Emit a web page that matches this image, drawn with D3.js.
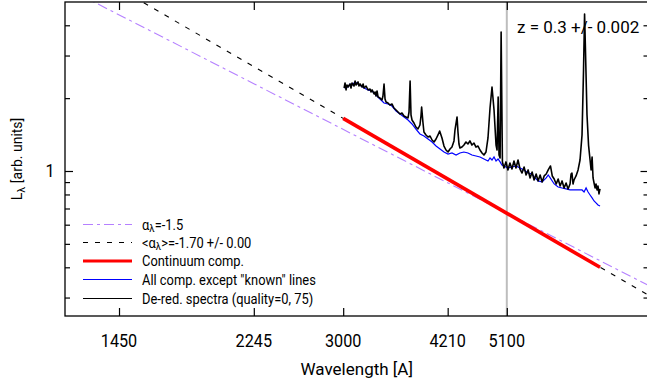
<!DOCTYPE html>
<html>
<head>
<meta charset="utf-8">
<script src="https://cdn.jsdelivr.net/npm/d3@7"></script>
<style>
body { margin: 0; background: #fff; }
text { font-family: Roboto, "Liberation Sans", sans-serif; fill: #000; }
</style>
</head>
<body>
<script>
// values: rest-frame wavelength [A] and L_lambda [arb. units]

// de-reddened spectrum (black)
var specWave = [3009,3018,3028,3037,3047,3067,3077,3087,3107,3118,
  3128,3148,3158,3169,3189,3200,3210,3231,3252,3273,
  3284,3295,3316,3327,3337,3348,3359,3380,3402,3413,
  3425,3436,3447,3469,3491,3514,3537,3561,3584,3607,
  3630,3654,3677,3702,3714,3727,3738,3750,3774,3798,
  3823,3848,3861,3869,3885,3898,3924,3950,3976,4002,
  4028,4054,4080,4102,4133,4160,4187,4215,4242,4269,
  4297,4311,4340,4353,4367,4381,4410,4438,4467,4496,
  4525,4555,4585,4615,4645,4675,4706,4736,4767,4798,
  4830,4861,4893,4925,4941,4959,4973,4990,5007,5028,
  5053,5086,5119,5152,5186,5220,5254,5289,5323,5358,
  5394,5429,5465,5500,5536,5572,5609,5645,5682,5719,
  5757,5795,5833,5876,5910,5947,5986,6024,6063,6101,
  6141,6181,6221,6261,6282,6300,6322,6342,6384,6426,
  6467,6509,6541,6563,6582,6615,6648,6681,6703,6725,
  6746,6768,6790,6811,6834,6855,6877,6900];
var specL = [2.203,2.311,2.162,2.267,2.224,2.288,2.203,2.311,2.245,2.355,
  2.267,2.333,2.245,2.288,2.224,2.288,2.203,2.245,2.162,2.182,
  2.121,2.162,2.081,2.121,2.042,2.141,2.022,2.003,1.965,2.042,
  2.288,1.984,1.928,1.910,1.874,1.892,1.821,1.787,1.753,1.720,
  1.736,1.688,1.672,1.656,1.753,2.355,1.704,1.625,1.579,1.520,
  1.491,1.549,1.688,1.839,1.594,1.449,1.409,1.382,1.395,1.343,
  1.318,1.356,1.409,1.463,1.369,1.268,1.221,1.198,1.233,1.256,
  1.331,1.477,1.672,1.449,1.293,1.245,1.256,1.280,1.318,1.293,
  1.331,1.280,1.305,1.256,1.268,1.221,1.187,1.164,1.198,1.369,
  1.821,2.224,1.787,1.280,1.221,2.022,1.164,1.132,3.753,1.090,
  1.029,1.090,1.010,1.079,1.019,1.100,1.029,1.110,1.019,0.981,
  1.039,0.963,1.010,0.936,0.991,0.918,0.972,0.910,0.963,0.901,
  0.954,0.972,1.010,1.049,0.954,0.927,0.884,0.927,0.867,0.910,
  0.851,0.892,0.843,0.884,0.972,0.981,0.884,0.918,0.954,1.010,
  1.110,1.409,2.615,4.456,3.162,1.704,1.280,1.110,1.010,1.143,
  0.936,0.892,0.851,0.884,0.835,0.867,0.804,0.843];

// all components except "known" lines (blue)
var blueWave = [3009,3028,3047,3067,3087,3118,3148,3179,3210,3252,
  3295,3337,3380,3425,3469,3514,3561,3607,3654,3702,
  3750,3798,3848,3898,3950,4002,4054,4107,4160,4215,
  4269,4326,4381,4438,4496,4555,4615,4675,4736,4798,
  4830,4861,4893,4925,4957,4990,5020,5053,5119,5186,
  5254,5323,5394,5465,5536,5572,5645,5719,5795,5833,
  5871,5947,6024,6101,6181,6261,6342,6426,6509,6552,
  6595,6638,6681,6725,6768,6811,6855,6900];
var blueL = [2.203,2.245,2.224,2.288,2.267,2.333,2.288,2.245,2.203,2.162,
  2.141,2.061,1.984,1.910,1.892,1.856,1.770,1.720,1.672,1.625,
  1.564,1.491,1.422,1.395,1.356,1.318,1.268,1.233,1.198,1.175,
  1.187,1.164,1.187,1.198,1.187,1.164,1.153,1.143,1.121,1.100,
  1.132,1.110,1.143,1.100,1.121,1.090,1.059,1.049,1.029,1.039,
  1.049,1.029,1.010,0.981,0.972,0.945,0.910,0.901,0.936,0.963,
  0.936,0.884,0.859,0.851,0.843,0.835,0.835,0.835,0.835,0.819,
  0.851,0.819,0.796,0.774,0.752,0.738,0.724,0.717];

// continuum component (red) and power laws
var contWave = [3000, 6900];
var contL = [1.65, 0.40];
var fitWave = [1200, 9000];   // <alpha> = -1.70 through the continuum
var fitL = [7.83, 0.255];
var fixWave = [1200, 9000];   // alpha = -1.5
var fixL = [5.87, 0.286];

var xTicks = [1450, 2245, 3000, 4210, 5100];
var yMajor = [1];
var yMinor = [0.3, 0.4, 0.5, 0.6, 0.7, 0.8, 0.9, 2, 3, 4];
var markWave = 5100;
var zText = "z = 0.3 +/- 0.002";

var legendParts = [
  [["\u03b1", ""], ["\u03bb", "sub"], ["=-1.5", ""]],
  [["<\u03b1", ""], ["\u03bb", "sub"], [">=-1.70 +/- 0.00", ""]],
  [["Continuum comp.", ""]],
  [["All comp. except \"known\" lines", ""]],
  [["De-red. spectra (quality=0, 75)", ""]]
];

var width = 647, height = 390;
// plot box (window.top is taken, so prefix these)
var pLeft = 65, pRight = 648.5, pTop = 2, pBottom = 316;
var purple = "#b580ff";

var svg = d3.select("body").append("svg")
  .attr("width", width)
  .attr("height", height);

// the original font is a bit narrower than Roboto: squeeze the text sideways
function squeeze(sel, k) {
  sel.each(function() {
    var len = this.getComputedTextLength();
    d3.select(this).attr("textLength", len * k).attr("lengthAdjust", "spacingAndGlyphs");
  });
}

// log-log scales
var x = d3.scaleLog().domain([1217, 8075]).range([pLeft, pRight]);
var y = d3.scaleLog().domain([0.2517, 4.992]).range([pBottom, pTop]);

svg.append("clipPath").attr("id", "clip")
  .append("rect")
  .attr("x", pLeft).attr("y", pTop)
  .attr("width", pRight - pLeft).attr("height", pBottom - pTop);

var plot = svg.append("g").attr("clip-path", "url(#clip)");

function pts(w, l) { return w.map(function(d, i) { return [d, l[i]]; }); }

var line = d3.line()
  .x(function(d) { return x(d[0]); })
  .y(function(d) { return y(d[1]); });

// vertical mark at 5100
plot.append("line")
  .attr("x1", x(markWave)).attr("x2", x(markWave))
  .attr("y1", pTop).attr("y2", pBottom)
  .attr("stroke", "#bdbdbd").attr("stroke-width", 2);

plot.append("path").datum(pts(fixWave, fixL))
  .attr("d", line).attr("fill", "none")
  .attr("stroke", purple).attr("stroke-width", 1.1)
  .attr("stroke-dasharray", "10,4,3,4");

plot.append("path").datum(pts(fitWave, fitL))
  .attr("d", line).attr("fill", "none")
  .attr("stroke", "#000").attr("stroke-width", 1.1)
  .attr("stroke-dasharray", "5,7");

svg.append("text")
  .attr("x", 517).attr("y", 33)
  .style("font-size", "17px")
  .text(zText);

plot.append("path").datum(pts(contWave, contL))
  .attr("d", line).attr("fill", "none")
  .attr("stroke", "#ff0000").attr("stroke-width", 3.6);

plot.append("path").datum(pts(blueWave, blueL))
  .attr("d", line).attr("fill", "none")
  .attr("stroke", "#0000ff").attr("stroke-width", 1.2);

plot.append("path").datum(pts(specWave, specL))
  .attr("d", line).attr("fill", "none")
  .attr("stroke", "#000").attr("stroke-width", 1.6)
  .attr("stroke-linejoin", "round");

// box
svg.append("rect")
  .attr("x", pLeft).attr("y", pTop)
  .attr("width", pRight - pLeft).attr("height", pBottom - pTop)
  .attr("fill", "none").attr("stroke", "#000").attr("stroke-width", 1.3);

// ticks pointing inwards, on all four sides
var xAxisB = d3.axisBottom(x).tickValues(xTicks).tickSize(-8).tickFormat("");
var xAxisT = d3.axisTop(x).tickValues(xTicks).tickSize(-8).tickFormat("");
svg.append("g").attr("transform", "translate(0," + pBottom + ")").call(xAxisB);
svg.append("g").attr("transform", "translate(0," + pTop + ")").call(xAxisT);

svg.append("g").attr("transform", "translate(" + pLeft + ",0)")
  .call(d3.axisLeft(y).tickValues(yMajor).tickSize(-8).tickFormat(""));
svg.append("g").attr("transform", "translate(" + pLeft + ",0)")
  .call(d3.axisLeft(y).tickValues(yMinor).tickSize(-5).tickFormat(""));
svg.append("g").attr("transform", "translate(" + pRight + ",0)")
  .call(d3.axisRight(y).tickValues(yMajor).tickSize(-8).tickFormat(""));
svg.append("g").attr("transform", "translate(" + pRight + ",0)")
  .call(d3.axisRight(y).tickValues(yMinor).tickSize(-5).tickFormat(""));

svg.selectAll(".domain").remove();
svg.selectAll(".tick line").attr("stroke", "#000").attr("stroke-width", 1.2);

// tick labels
svg.selectAll(".xlab").data(xTicks).enter().append("text")
  .attr("class", "xlab")
  .attr("x", function(d) { return x(d); })
  .attr("y", 346.5)
  .attr("text-anchor", "middle")
  .style("font-size", "18px")
  .text(function(d) { return d; })
  .call(squeeze, 0.9);

svg.selectAll(".ylab").data(yMajor).enter().append("text")
  .attr("class", "ylab")
  .attr("x", 50)
  .attr("y", function(d) { return y(d) + 6.5; })
  .attr("text-anchor", "middle")
  .style("font-size", "18px")
  .text(function(d) { return d; })
  .call(squeeze, 0.9);

svg.append("text")
  .attr("x", (pLeft + pRight) / 2).attr("y", 375)
  .attr("text-anchor", "middle")
  .style("font-size", "17px")
  .text("Wavelength [A]");

var ytitle = svg.append("text")
  .attr("transform", "translate(22," + (pTop + pBottom) / 2 + ") rotate(-90)")
  .attr("text-anchor", "middle")
  .style("font-size", "14px");
ytitle.append("tspan").text("L");
ytitle.append("tspan").attr("baseline-shift", "-25%").style("font-size", "11px").text("\u03bb");
ytitle.append("tspan").text(" [arb. units]");

// legend
var legY = [224.5, 242.5, 261, 279.5, 298.5];
var legStyle = [
  { c: purple, w: 1.1, d: "10,4,3,4" },
  { c: "#000", w: 1.1, d: "5,7" },
  { c: "#ff0000", w: 3, d: null },
  { c: "#0000ff", w: 1.2, d: null },
  { c: "#000", w: 1.2, d: null }
];
var leg = svg.append("g");
legendParts.forEach(function(parts, i) {
  leg.append("line")
    .attr("x1", 83).attr("x2", 132)
    .attr("y1", legY[i]).attr("y2", legY[i])
    .attr("stroke", legStyle[i].c).attr("stroke-width", legStyle[i].w)
    .attr("stroke-dasharray", legStyle[i].d);
  var t = leg.append("text")
    .attr("x", 142).attr("y", legY[i] + 5)
    .style("font-size", "14px");
  parts.forEach(function(p) {
    var s = t.append("tspan").text(p[0]);
    if (p[1] == "sub") s.attr("baseline-shift", "-18%").style("font-size", "10.5px");
  });
  t.call(squeeze, 0.92);
});
</script>
</body>
</html>
